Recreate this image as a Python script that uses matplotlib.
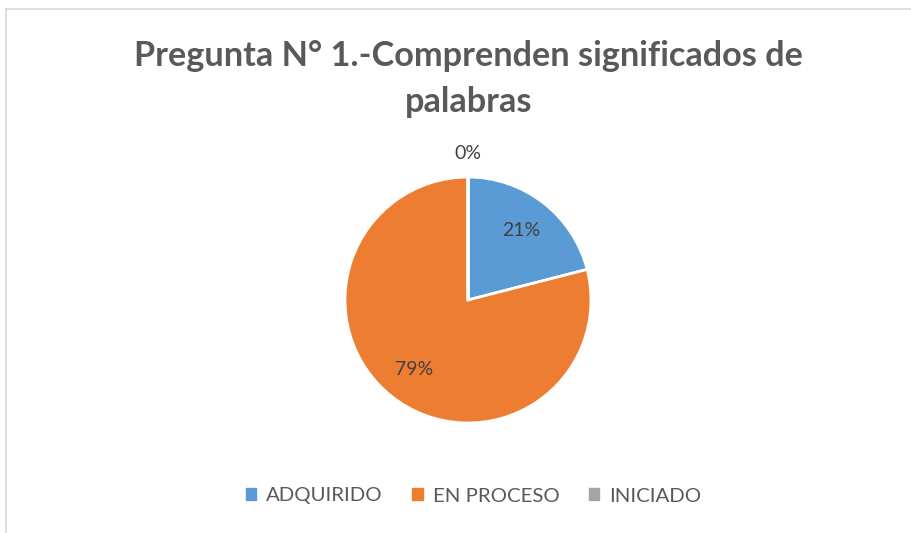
import matplotlib
matplotlib.use("Agg")
import matplotlib.pyplot as plt
from matplotlib.lines import Line2D
import numpy as np

categories = ["ADQUIRIDO", "EN PROCESO", "INICIADO"]
values = [21, 79, 0.0001]
labels_pct = ["21%", "79%", "0%"]
colors = ["#5B9BD5", "#ED7D31", "#A5A5A5"]
title = "Pregunta N° 1.-Comprenden significados de\npalabras"

W, H = 911, 533
fig = plt.figure(figsize=(W / 100, H / 100), dpi=100)
fig.patch.set_facecolor("white")

# chart border (top and left visible)
fig.add_artist(Line2D([6 / W, 6 / W], [0, 1 - 8.5 / H], transform=fig.transFigure, color="#D9D9D9", lw=1.2))
fig.add_artist(Line2D([6 / W, 1], [1 - 8.5 / H, 1 - 8.5 / H], transform=fig.transFigure, color="#D9D9D9", lw=1.2))

cx, cy, R = 468, 300, 123
ra = 160
ax = fig.add_axes([(cx - ra) / W, (H - cy - ra) / H, 2 * ra / W, 2 * ra / H])

wedges, _ = ax.pie(values, colors=colors, startangle=90, counterclock=False,
                   wedgeprops=dict(edgecolor="white", linewidth=2), radius=1)
k = ra / R
ax.set_xlim(-k, k)
ax.set_ylim(-k, k)
ax.set_aspect("equal")
ax.axis("off")

for w, lab in zip(wedges, labels_pct):
    ang = np.deg2rad((w.theta1 + w.theta2) / 2)
    d = 0.71 if lab != "0%" else 1.19
    ax.text(d * np.cos(ang), d * np.sin(ang), lab, ha="center", va="center",
            fontsize=14, color="#404040", family="Lato")

fig.text(0.514, 1 - 79 / H, title, ha="center", va="center", fontsize=24.7,
         fontweight="bold", color="#595959", family="Lato", linespacing=1.55)

handles = [plt.Rectangle((0, 0), 1, 1, color=c) for c in colors]
fig.legend(handles, categories, loc="center", bbox_to_anchor=(0.52, 1 - 496 / H),
           ncol=3, frameon=False, prop=dict(family="Lato", size=14.7),
           labelcolor="#595959", handlelength=0.5, handleheight=0.5,
           handletextpad=0.5, columnspacing=1.45)

fig.savefig("out.png", dpi=100)
